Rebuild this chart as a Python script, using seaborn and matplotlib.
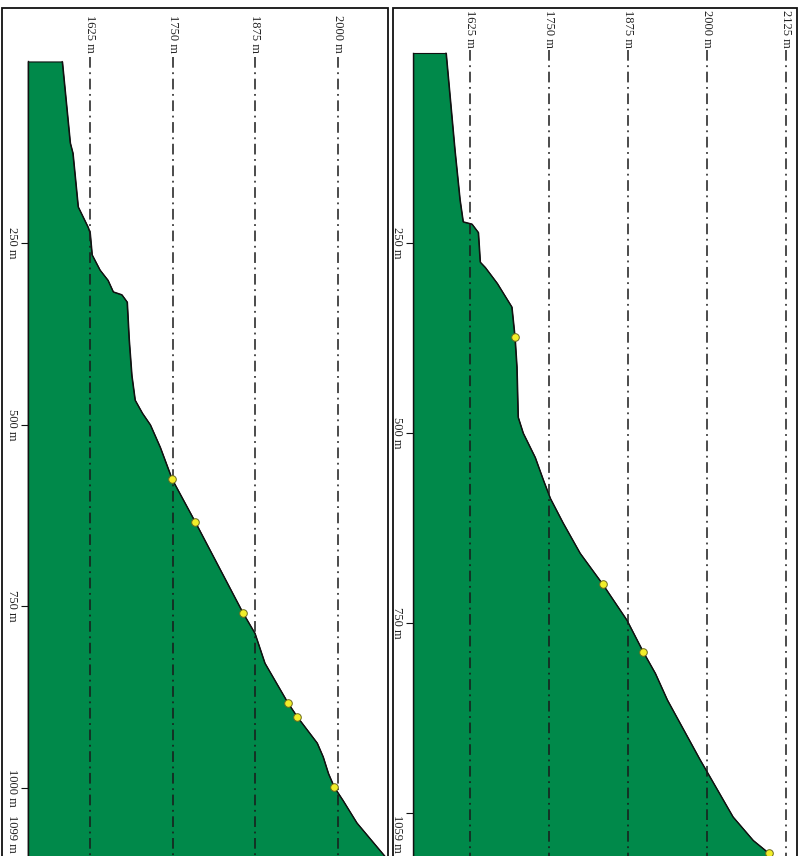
import matplotlib
matplotlib.use("Agg")
import matplotlib.pyplot as plt
import matplotlib.patches as mpatches
import matplotlib.transforms as mtransforms
import seaborn as sns
import pandas as pd

# ---------------- data ----------------
left_dist = [0, 112, 126, 200, 228, 236, 266, 287, 301, 317, 321, 331, 383, 432, 466, 484, 500,
             531, 575, 634, 759, 787, 828, 883, 902, 938, 957, 980, 999, 1017, 1048, 1086, 1099]
left_elev = [1583, 1595, 1599, 1607, 1622, 1625, 1628, 1640, 1652, 1660, 1673, 1681, 1684, 1688,
             1693, 1704, 1716, 1731, 1749, 1784, 1856, 1874, 1889, 1924, 1938, 1968, 1977, 1985,
             1994, 2007, 2028, 2063, 2075]
left_dot_dist = [575, 634, 759, 883, 902, 999]
left_dot_elev = [1749, 1784, 1856, 1924, 1938, 1994]
left_dist_ticks = [250, 500, 750, 1000, 1099]
left_dist_labels = ["250 m", "500 m", "750 m", "1000 m", "1099 m"]
left_elev_ticks = [1625, 1750, 1875, 2000]
left_elev_labels = ["1625 m", "1750 m", "1875 m", "2000 m"]

right_dist = [0, 128, 193, 222, 225, 236, 275, 282, 303, 334, 374, 413, 479, 500, 532, 562, 586,
              618, 658, 699, 746, 788, 816, 851, 930, 953, 1005, 1036, 1053, 1059]
right_elev = [1587, 1601, 1609, 1614, 1628, 1638, 1641, 1649, 1668, 1691, 1696, 1699, 1701, 1709,
              1728, 1741, 1752, 1772, 1799, 1835, 1873, 1899, 1918, 1937, 1989, 2005, 2041, 2073,
              2098, 2103]
right_dot_dist = [374, 699, 788, 1053]
right_dot_elev = [1696, 1835, 1899, 2098]
right_dist_ticks = [250, 500, 750, 1000, 1059]
right_dist_labels = ["250 m", "500 m", "750 m", "", "1059 m"]
right_elev_ticks = [1625, 1750, 1875, 2000, 2125]
right_elev_labels = ["1625 m", "1750 m", "1875 m", "2000 m", "2125 m"]

# ---------------- style ----------------
sns.set_theme(style="white")
plt.rcParams['font.family'] = ['Liberation Serif', 'DejaVu Serif']

GREEN = "#00894a"
DOT_FACE = "#f2ee2a"
DOT_EDGE = "#6b6a1e"
FS = 9

fig = plt.figure(figsize=(7.98, 8.56), dpi=100)
W, H = 798.0, 856.0


def panel(rect_px, xlim, ylim, base, dist, elev, dot_d, dot_e, dticks, dlabels,
          eticks, elabels, label_top_d, line_start_d, last_shift_px):
    x0, y0, x1, y1 = rect_px
    ax = fig.add_axes([x0 / W, 1 - y1 / H, (x1 - x0) / W, (y1 - y0) / H])
    ax.set_xlim(*xlim)
    ax.set_ylim(*ylim)
    ax.set_facecolor("white")

    df = pd.DataFrame({"dist": dist, "elev": elev})
    ax.fill_betweenx(df["dist"], base, df["elev"], facecolor=GREEN,
                     edgecolor="#111111", linewidth=0.8, zorder=1)
    sns.lineplot(data=df, x="elev", y="dist", sort=False, estimator=None,
                 color="#111111", linewidth=0.9, ax=ax, zorder=2)

    # dash-dot guide lines at elevation ticks
    ax.vlines(eticks, line_start_d, ylim[0], colors="#1a1a1a", linewidth=1.1,
              linestyles=[(0, (7, 3, 1.2, 3))], zorder=3)
    for e, lab in zip(eticks, elabels):
        ax.text(e, label_top_d, lab, rotation=-90, ha="center", va="top",
                fontsize=FS, color="#222222", zorder=4)

    dots = pd.DataFrame({"dist": dot_d, "elev": dot_e})
    sns.scatterplot(data=dots, x="elev", y="dist", s=30, color=DOT_FACE,
                    edgecolor=DOT_EDGE, linewidth=0.7, ax=ax, zorder=5)

    # axes decoration
    for s in ["top", "right", "bottom"]:
        ax.spines[s].set_visible(False)
    ax.spines["left"].set_position(("data", base))
    ax.spines["left"].set_bounds(0, max(dist))
    ax.spines["left"].set_color("#111111")
    ax.spines["left"].set_linewidth(1.0)
    ax.set_xticks([])
    ax.set_yticks(dticks)
    ax.set_yticklabels(dlabels, rotation=-90, fontsize=FS, color="#222222")
    ax.tick_params(axis="y", left=True, length=5, width=0.8, pad=2, color="#111111")
    labels = ax.get_yticklabels()
    for t in labels:
        t.set_va("center")
    last = labels[-1]
    last.set_va("bottom")
    last.set_transform(last.get_transform() +
                       mtransforms.ScaledTranslation(0, last_shift_px / 100.0,
                                                     fig.dpi_scale_trans))
    ax.set_xlabel("")
    ax.set_ylabel("")
    frame = mpatches.Rectangle((0, 0), 1, 1, transform=ax.transAxes, fill=False,
                               edgecolor="#111111", linewidth=1.3, clip_on=False, zorder=10)
    ax.add_patch(frame)
    return ax


# left panel: x(e) = 90 + (e-1625)*0.662 ; y(d) = 61.5 + 0.7264*d
panel((2, 8, 388, 870), (1492.1, 2075.2), (1113.0, -73.6), 1531,
      left_dist, left_elev, left_dot_dist, left_dot_elev,
      left_dist_ticks, left_dist_labels, left_elev_ticks, left_elev_labels,
      label_top_d=-64, line_start_d=-6, last_shift_px=7)

# right panel: x(e) = 470 + (e-1625)*0.632 ; y(d) = 53 + 0.76*d
panel((393, 8, 797, 870), (1503.2, 2142.4), (1075.0, -59.2), 1535,
      right_dist, right_elev, right_dot_dist, right_dot_elev,
      right_dist_ticks, right_dist_labels, right_elev_ticks, right_elev_labels,
      label_top_d=-56, line_start_d=-4, last_shift_px=5)

fig.savefig("out.png", dpi=100)
